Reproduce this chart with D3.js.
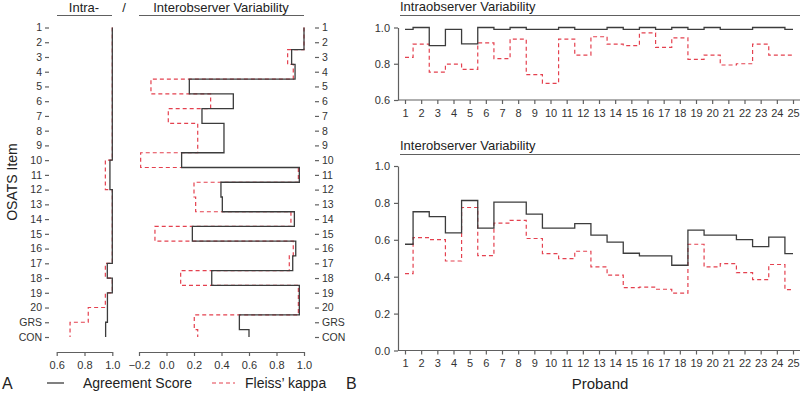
<!DOCTYPE html>
<html>
<head>
<meta charset="utf-8">
<script src="https://cdn.jsdelivr.net/npm/d3@7"></script>
<style>
  body { margin: 0; background: #fff; }
  svg { display: block; font-family: "Liberation Sans", Arial, sans-serif; }
  .tick text { fill: #333; }
</style>
</head>
<body>
<div id="chart"></div>
<script>
// OSATS items (panel A) and probands (panel B)
const items = ["1","2","3","4","5","6","7","8","9","10","11","12","13","14","15","16","17","18","19","20","GRS","CON"];
const probands = d3.range(1, 26);

// Panel A, intraobserver per item
const intraItemAgree = [1,1,1,1,1,1,1,1,1,0.983,0.983,1,1,1,1,1,0.964,1,0.965,0.965,0.952,0.952];
const intraItemKappa = [1,1,1,1,1,1,1,1,1,0.95,0.95,1,1,1,1,1,0.95,1,0.95,0.827,0.696,0.696];

// Panel A, interobserver per item
const interItemAgree = [1,1,0.91,0.935,0.166,0.486,0.258,0.418,0.418,0.11,0.966,0.396,0.406,0.93,0.188,0.94,0.918,0.329,0.966,0.966,0.53,0.6];
const interItemKappa = [1,1,0.881,0.922,-0.113,0.321,0.013,0.227,0.227,-0.188,0.959,0.2,0.212,0.905,-0.084,0.922,0.893,0.103,0.959,0.959,0.202,0.227];

// Panel B, per proband
const intraProbAgree = [0.99,1,0.9,0.99,0.91,1,0.99,1,0.99,0.99,1,0.99,0.99,1,0.99,1,0.99,1,0.99,1,0.99,0.99,1,1,0.99];
const intraProbKappa = [0.835,0.908,0.754,0.798,0.769,0.915,0.828,0.936,0.74,0.692,0.936,0.848,0.949,0.908,0.9,0.97,0.89,0.943,0.824,0.848,0.793,0.8,0.908,0.848,0.848];
const interProbAgree = [0.576,0.752,0.726,0.638,0.813,0.663,0.804,0.804,0.739,0.663,0.663,0.688,0.625,0.587,0.527,0.513,0.513,0.462,0.652,0.625,0.625,0.601,0.563,0.614,0.525];
const interProbKappa = [0.417,0.612,0.601,0.485,0.775,0.514,0.69,0.705,0.607,0.525,0.498,0.538,0.453,0.408,0.341,0.344,0.332,0.311,0.576,0.453,0.471,0.422,0.384,0.466,0.33];

const intraTicks = [0.6, 0.8, 1.0];
const interTicks = [-0.2, 0, 0.2, 0.4, 0.6, 0.8, 1.0];
const topTicks = [0.6, 0.8, 1.0];
const botTicks = [0, 0.2, 0.4, 0.6, 0.8, 1.0];

const W = 800, H = 395;
const black = "#3c3c3c", red = "#e4414f", axisCol = "#606060";
const dash = "4,3";

const svg = d3.select("#chart").append("svg").attr("width", W).attr("height", H);

const yItem = d3.scalePoint().domain(items).range([27.5, 337]);
const xIntra = d3.scaleLinear().domain([0.6, 1.0]).range([56.7, 112.3]);
const xInter = d3.scaleLinear().domain([-0.2, 1.0]).range([139, 304]);
const xP = d3.scaleLinear().domain([1, 25]).range([405, 793]);
const yTop = d3.scaleLinear().domain([0.6, 1.0]).range([100, 27.5]);
const yBot = d3.scaleLinear().domain([0, 1]).range([350.5, 166]);

function styleAxis(g, fs) {
  g.select(".domain").attr("stroke", axisCol).attr("stroke-width", 1.2);
  g.selectAll(".tick line").attr("stroke", axisCol).attr("stroke-width", 1.2);
  g.selectAll(".tick text").attr("font-size", fs).attr("font-family", "Liberation Sans, Arial, sans-serif").attr("fill", "#333");
}
const fmt = d3.format(".1f");

// ---------- Panel A titles ----------
svg.append("text").attr("x", 84).attr("y", 12).attr("text-anchor", "middle").attr("font-size", 13).attr("fill", "#222").text("Intra-");
svg.append("line").attr("x1", 57).attr("x2", 112).attr("y1", 15.5).attr("y2", 15.5).attr("stroke", axisCol).attr("stroke-width", 1.2);
svg.append("text").attr("x", 124).attr("y", 12).attr("text-anchor", "middle").attr("font-size", 13).attr("fill", "#222").text("/");
svg.append("text").attr("x", 221).attr("y", 12).attr("text-anchor", "middle").attr("font-size", 13).attr("fill", "#222").text("Interobserver Variability");
svg.append("line").attr("x1", 139).attr("x2", 304).attr("y1", 15.5).attr("y2", 15.5).attr("stroke", axisCol).attr("stroke-width", 1.2);

// item axes (ticks only, no line)
const gItemL = svg.append("g").attr("transform", "translate(49,0)")
  .call(d3.axisLeft(yItem).tickSize(4).tickPadding(3));
styleAxis(gItemL, 10.5);
gItemL.select(".domain").remove();

const gItemR = svg.append("g").attr("transform", "translate(315,0)")
  .call(d3.axisRight(yItem).tickSize(4).tickPadding(3));
styleAxis(gItemR, 10.5);
gItemR.select(".domain").remove();

svg.append("text").attr("transform", "translate(17,182) rotate(-90)").attr("text-anchor", "middle")
  .attr("font-size", 14).attr("fill", "#222").text("OSATS Item");

// x axes of panel A
const gxIntra = svg.append("g").attr("transform", "translate(0,352)")
  .call(d3.axisBottom(xIntra).tickValues(intraTicks).tickFormat(fmt).tickSize(4).tickSizeOuter(0).tickPadding(5));
styleAxis(gxIntra, 11);
const gxInter = svg.append("g").attr("transform", "translate(0,352)")
  .call(d3.axisBottom(xInter).tickValues(interTicks).tickFormat(fmt).tickSize(4).tickSizeOuter(0).tickPadding(5));
styleAxis(gxInter, 11);

// step along the item axis
const stepBeforeLine = (xs) => d3.line().x(d => xs(d.v)).y(d => yItem(d.item)).curve(d3.curveStepBefore);
function stepMidY(vals, xs) {
  const p = d3.path();
  vals.forEach((v, i) => {
    const x = xs(v), y = yItem(items[i]);
    if (i === 0) { p.moveTo(x, y); return; }
    const ym = (yItem(items[i - 1]) + y) / 2;
    p.lineTo(xs(vals[i - 1]), ym);
    p.lineTo(x, ym);
    p.lineTo(x, y);
  });
  return p.toString();
}
const toPts = vals => vals.map((v, i) => ({ item: items[i], v: v }));

svg.append("path").attr("d", stepBeforeLine(xIntra)(toPts(intraItemKappa)))
  .attr("fill", "none").attr("stroke", red).attr("stroke-width", 1.2).attr("stroke-dasharray", dash);
svg.append("path").attr("d", stepBeforeLine(xIntra)(toPts(intraItemAgree)))
  .attr("fill", "none").attr("stroke", black).attr("stroke-width", 1.3);

svg.append("path").attr("d", stepMidY(interItemKappa, xInter))
  .attr("fill", "none").attr("stroke", red).attr("stroke-width", 1.2).attr("stroke-dasharray", dash);
svg.append("path").attr("d", stepMidY(interItemAgree, xInter))
  .attr("fill", "none").attr("stroke", black).attr("stroke-width", 1.3);

// legend + panel letters
const legY = 383;
svg.append("text").attr("x", 2).attr("y", legY + 6).attr("font-size", 16).attr("fill", "#222").text("A");
svg.append("line").attr("x1", 47).attr("x2", 64).attr("y1", legY).attr("y2", legY).attr("stroke", black).attr("stroke-width", 1.3);
svg.append("text").attr("x", 83).attr("y", legY + 5).attr("font-size", 14).attr("fill", "#222").text("Agreement Score");
svg.append("line").attr("x1", 212).attr("x2", 235).attr("y1", legY).attr("y2", legY).attr("stroke", red).attr("stroke-width", 1.2).attr("stroke-dasharray", dash);
svg.append("text").attr("x", 245).attr("y", legY + 5).attr("font-size", 14).attr("fill", "#222").text("Fleiss\u2019 kappa");
svg.append("text").attr("x", 346).attr("y", legY + 6).attr("font-size", 16).attr("fill", "#222").text("B");

// ---------- Panel B ----------
function probPanel(title, yS, ticks, titleY, agree, kappa) {
  const y0 = yS.range()[0];
  svg.append("text").attr("x", 400).attr("y", titleY).attr("font-size", 13).attr("fill", "#222").text(title);
  svg.append("line").attr("x1", 400).attr("x2", W).attr("y1", titleY + 4.5).attr("y2", titleY + 4.5)
    .attr("stroke", axisCol).attr("stroke-width", 1.2);

  const gy = svg.append("g").attr("transform", "translate(398,0)")
    .call(d3.axisLeft(yS).tickValues(ticks).tickFormat(fmt).tickSize(4).tickSizeOuter(0).tickPadding(4));
  styleAxis(gy, 11);

  const gx = svg.append("g").attr("transform", `translate(0,${y0})`)
    .call(d3.axisBottom(xP).tickValues(probands).tickFormat(d3.format("d")).tickSize(4).tickSizeOuter(0).tickPadding(5));
  styleAxis(gx, 11);
  gx.select(".domain").remove();
  svg.append("line").attr("x1", 398).attr("x2", W).attr("y1", y0).attr("y2", y0)
    .attr("stroke", axisCol).attr("stroke-width", 1.2);

  const line = d3.line().x((d, i) => xP(probands[i])).y(d => yS(d)).curve(d3.curveStep);
  svg.append("path").attr("d", line(kappa)).attr("fill", "none").attr("stroke", red)
    .attr("stroke-width", 1.2).attr("stroke-dasharray", dash);
  svg.append("path").attr("d", line(agree)).attr("fill", "none").attr("stroke", black).attr("stroke-width", 1.3);
}

probPanel("Intraobserver Variability", yTop, topTicks, 11, intraProbAgree, intraProbKappa);
probPanel("Interobserver Variability", yBot, botTicks, 150, interProbAgree, interProbKappa);

svg.append("text").attr("x", 600).attr("y", 389).attr("text-anchor", "middle").attr("font-size", 15).attr("fill", "#222").text("Proband");
</script>
</body>
</html>
